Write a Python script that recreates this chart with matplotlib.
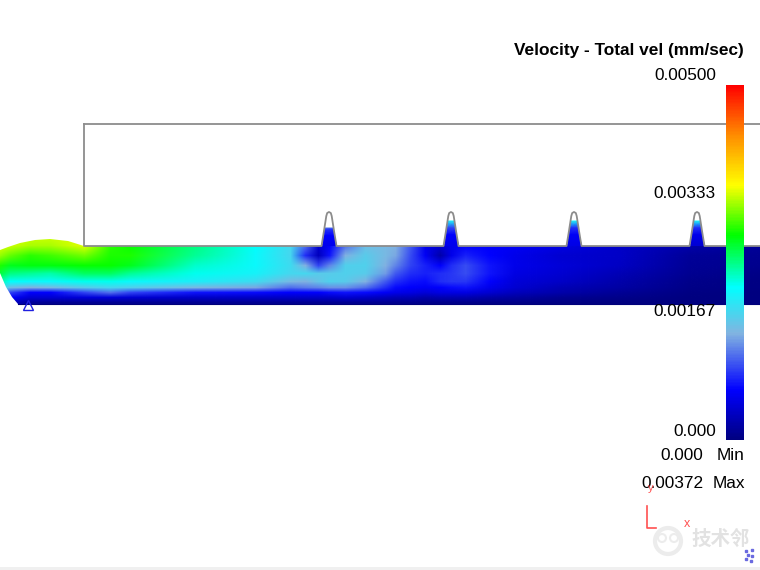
#!/bin/python3

import numpy as np
from matplotlib import pyplot as plt
from matplotlib.cm import ScalarMappable
from matplotlib.colors import LinearSegmentedColormap, Normalize
from matplotlib.image import NonUniformImage
from matplotlib.patches import Circle, Polygon, Rectangle

#------------------------------------------------------------------------------
# Data (velocity in 1e-3 mm/sec)
#------------------------------------------------------------------------------
x_cols = [0, 10, 30, 50, 84, 110, 130, 195, 255, 290, 305, 318, 329, 345, 365, 385, 395, 410, 425, 440, 451, 465, 490, 515, 560, 620, 690, 760]
y_rows = [238, 246, 256, 266, 274, 282, 288, 293, 298, 303]
row_238 = [3.5, 3.5, 3.45, 3.45, 3.5, 3.0, 2.9, 2.5, 2.15, 1.8, 1.2, 0.45, 0.7, 1.2, 1.6, 1.55, 1.5, 1.1, 0.6, 0.45, 0.6, 0.7, 0.7, 0.65, 0.55, 0.4, 0.25, 0.15]
row_246 = [3.5, 3.45, 3.35, 3.35, 3.5, 3.0, 2.9, 2.5, 2.15, 1.8, 1.2, 0.45, 0.7, 1.2, 1.6, 1.55, 1.5, 1.1, 0.6, 0.45, 0.6, 0.7, 0.7, 0.65, 0.55, 0.4, 0.25, 0.15]
row_256 = [3.3, 3.15, 3.0, 3.05, 3.2, 2.95, 2.95, 2.45, 2.1, 1.8, 0.9, 0.35, 0.8, 1.5, 1.7, 1.55, 1.45, 1.05, 0.65, 0.25, 0.6, 0.85, 0.72, 0.6, 0.45, 0.4, 0.15, 0.1]
row_266 = [2.95, 2.8, 2.85, 2.85, 2.9, 2.9, 2.8, 2.3, 2.1, 1.85, 1.5, 1.0, 1.3, 1.75, 1.75, 1.5, 1.3, 1.0, 0.85, 0.7, 0.9, 1.05, 0.8, 0.6, 0.5, 0.38, 0.12, 0.08]
row_274 = [2.7, 2.5, 2.45, 2.4, 2.6, 2.6, 2.45, 2.2, 2.05, 1.8, 1.8, 1.7, 1.7, 1.75, 1.7, 1.4, 1.1, 0.9, 0.85, 0.9, 0.95, 1.05, 0.8, 0.55, 0.45, 0.3, 0.1, 0.05]
row_282 = [2.4, 2.15, 2.1, 2.1, 2.2, 2.2, 2.1, 2.0, 1.85, 1.55, 1.5, 1.65, 1.75, 1.7, 1.5, 1.1, 0.9, 0.8, 0.75, 0.9, 0.95, 0.95, 0.7, 0.5, 0.4, 0.25, 0.07, 0.03]
row_288 = [2.0, 1.6, 1.5, 1.55, 1.7, 1.8, 1.75, 1.55, 1.45, 1.2, 1.25, 1.3, 1.35, 1.35, 1.2, 0.9, 0.75, 0.7, 0.65, 0.7, 0.75, 0.8, 0.6, 0.45, 0.3, 0.2, 0.05, 0.02]
row_293 = [1.5, 1.0, 0.7, 0.7, 1.0, 1.2, 1.0, 0.8, 0.75, 0.7, 0.7, 0.7, 0.75, 0.8, 0.75, 0.65, 0.6, 0.55, 0.5, 0.55, 0.55, 0.55, 0.45, 0.35, 0.25, 0.12, 0.03, 0.01]
row_298 = [1.0, 0.7, 0.45, 0.45, 0.5, 0.5, 0.45, 0.4, 0.4, 0.4, 0.4, 0.4, 0.4, 0.45, 0.4, 0.35, 0.3, 0.3, 0.25, 0.28, 0.28, 0.28, 0.22, 0.18, 0.1, 0.06, 0.01, 0.0]
row_303 = [0.5, 0.4, 0.15, 0.1, 0.1, 0.1, 0.1, 0.1, 0.1, 0.1, 0.1, 0.1, 0.1, 0.1, 0.1, 0.1, 0.08, 0.08, 0.06, 0.06, 0.06, 0.06, 0.05, 0.04, 0.02, 0.01, 0.0, 0.0]
field = np.array([row_238, row_246, row_256, row_266, row_274, row_282, row_288, row_293, row_298, row_303])

# flow front outline, left end of the strip
front_x = [84, 68, 50, 35, 20, 8, 0, 0, 6, 12, 18]
front_y = [246, 241, 239, 240, 243, 247, 250, 273, 287, 297, 304]

# teeth along the top of the strip
tooth_x = [329, 451, 574, 697]
tooth_offset_x = [-7.5, -5.2, -2.7, -1.8, 0, 1.8, 2.7, 5.2, 7.5]
tooth_offset_y = [246, 232, 216, 213, 212, 213, 216, 232, 246]
tooth_y = [[228, 230, 236, 246], [221, 228, 235, 246], [221, 228, 235, 246], [221, 228, 235, 246]]
tooth_val = [[1.2, 0.9, 0.7, 0.6], [2.0, 1.0, 0.7, 0.6], [2.0, 0.9, 0.65, 0.55], [2.0, 0.9, 0.6, 0.45]]

# scale
scale_stops = [0.0, 0.14, 0.30, 0.43, 0.577, 0.718, 0.86, 1.0]
scale_colors = ['#000080', '#0000ff', '#82b4e1', '#00ffff', '#00ff00', '#ffff00', '#ff8c00', '#ff0000']
scale_labels = ['0.00500', '0.00333', '0.00167', '0.000']
scale_label_y = [76, 194, 312, 431]

#------------------------------------------------------------------------------
# Plot
#------------------------------------------------------------------------------
plt.rcParams['font.family'] = ['Liberation Sans', 'DejaVu Sans']
cmap = LinearSegmentedColormap.from_list('vel', list(zip(scale_stops, scale_colors)), N=256)
norm = Normalize(0, 5)

fig = plt.figure(figsize=(7.6, 5.7), dpi=100)
ax = fig.add_axes([0, 0, 1, 1])

# strip
im = NonUniformImage(ax, interpolation='bilinear', cmap=cmap, norm=norm, zorder=2)
im.set_data(x_cols, y_rows, field)
ax.add_image(im)
strip = Polygon(list(zip(front_x, front_y)) + [(760, 304), (760, 246)], closed=True, transform=ax.transData)
im.set_clip_path(strip)
ax.set_xlim(0, 760)
ax.set_ylim(570, 0)
ax.axis('off')

# teeth
for tx, ty, tv in zip(tooth_x, tooth_y, tooth_val):
  outline = [(tx + dx, dy) for dx, dy in zip(tooth_offset_x, tooth_offset_y)]
  tm = ax.pcolormesh([tx - 9, tx + 9], ty, np.array([tv, tv]).T, cmap=cmap, norm=norm,
                     shading='gouraud', zorder=2)
  tm.set_clip_path(Polygon(outline, closed=True, transform=ax.transData))

# part outline
line_x = [84, 84]
line_y = [124, 246]
for tx in tooth_x:
  line_x += [tx + dx for dx in tooth_offset_x]
  line_y += tooth_offset_y
line_x.append(760)
line_y.append(246)
ax.plot(line_x, line_y, color='#8c8c8c', lw=1.3, zorder=3, solid_joinstyle='round')
ax.plot([84, 760], [124, 124], color='#8c8c8c', lw=1.3, zorder=3)
ax.plot([18, 760], [303.5, 303.5], color='#00007a', lw=0.8, zorder=3)

# support marker
ax.plot([27.5], [305], marker='^', ms=7, mfc='none', mec='#2020e0', mew=1.0, ls='none', zorder=4)

# colour scale on top of the part
cax = fig.add_axes([726 / 760, 1 - 440 / 570, 18 / 760, 355 / 570], zorder=5)
cb = fig.colorbar(ScalarMappable(norm=norm, cmap=cmap), cax=cax)
cb.set_ticks([])
cb.outline.set_visible(False)

ax.text(744, 50, 'Velocity - Total vel (mm/sec)', ha='right', va='center', fontsize=12.4, fontweight='bold', color='black')
for label, y in zip(scale_labels, scale_label_y):
  ax.text(716, y, label, ha='right', va='center', fontsize=12.4, color='black')
ax.text(703, 456, '0.000', ha='right', va='center', fontsize=12.4, color='black')
ax.text(745, 456, 'Min', ha='right', va='center', fontsize=12.4, color='black')
ax.text(703, 484, '0.00372', ha='right', va='center', fontsize=12.4, color='black')
ax.text(745, 484, 'Max', ha='right', va='center', fontsize=12.4, color='black')

# watermark
wm = '#ececec'
ax.add_patch(Circle((668, 541), 13, fc='none', ec=wm, lw=3, zorder=1))
ax.add_patch(Circle((662, 538), 4, fc='none', ec=wm, lw=1.5, zorder=1))
ax.add_patch(Circle((674, 538), 4, fc='none', ec=wm, lw=1.5, zorder=1))
ax.text(721, 539, '技术邻', ha='center', va='center', fontsize=14, fontweight='bold', color='#e2e2e2',
        family=['Noto Sans CJK SC', 'DejaVu Sans'])

# triad
ax.plot([647, 647, 656], [506, 528, 528], color='#ff5050', lw=1.2, zorder=4)
ax.text(687, 524, 'x', ha='center', va='center', fontsize=9, color='#ff5050')
ax.text(651, 488, 'y', ha='center', va='center', fontsize=8, color='#ff5050')

# small view icon
ax.plot([746, 752, 748, 752, 746, 751], [551, 550, 555, 556, 559, 561], marker='s', ms=2, ls='none', color='#6a6ae0')

# bottom edge of the window
ax.add_patch(Rectangle((0, 567), 760, 3, fc='#f0f0f0', ec='none'))

fig.savefig('out.png', dpi=100)
